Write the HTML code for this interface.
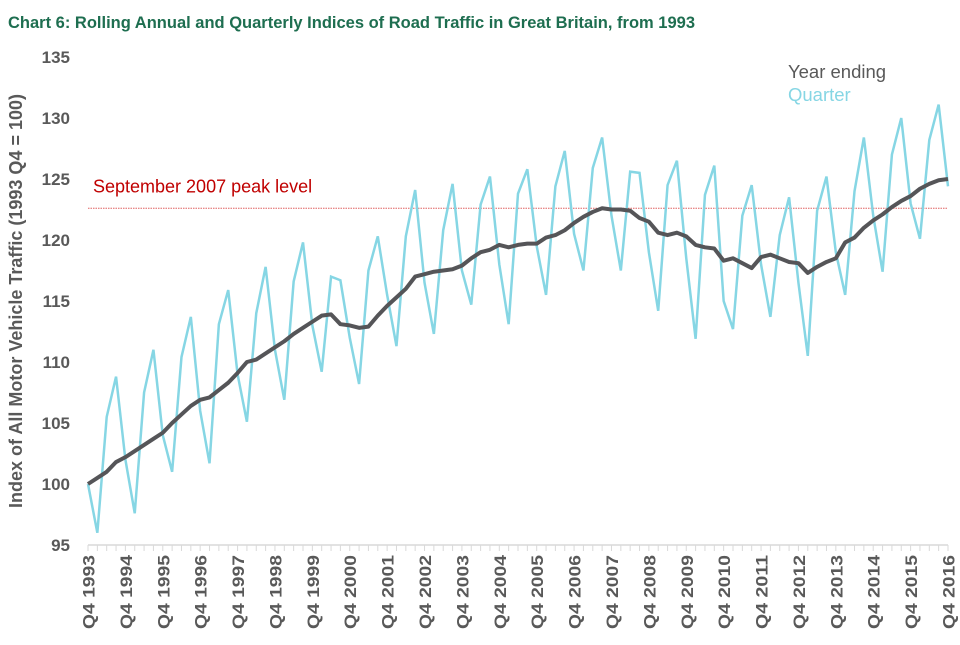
<!DOCTYPE html>
<html><head><meta charset="utf-8"><style>
body{margin:0;background:#fff;width:960px;height:640px;overflow:hidden;font-family:"Liberation Sans",sans-serif}
</style></head><body>
<svg width="960" height="640" xmlns="http://www.w3.org/2000/svg">
<text x="8" y="28" font-size="16.5" font-weight="bold" fill="#1e6e50">Chart 6: Rolling Annual and Quarterly Indices of Road Traffic in Great Britain, from 1993</text>
<text transform="translate(22,301) rotate(-90)" text-anchor="middle" font-size="18" font-weight="bold" fill="#595959">Index of All Motor Vehicle Traffic (1993 Q4 = 100)</text>
<g id="yticks"></g><g id="xticks"></g>
<line x1="88" y1="545" x2="948" y2="545" stroke="#d9d9d9" stroke-width="1.5"/>
<g id="peak"></g>
<polyline id="qline" fill="none" stroke="#86d6e4" stroke-width="2.5"/>
<polyline id="yline" fill="none" stroke="#555558" stroke-width="4" stroke-linejoin="round"/>
<text x="788" y="78" font-size="18.5" fill="#595959">Year ending</text>
<text x="788" y="101" font-size="18.5" fill="#86d6e4">Quarter</text>
</svg>
<script>
const yTicks=[95,100,105,110,115,120,125,130,135];
const xLabels=["Q4 1993","Q4 1994","Q4 1995","Q4 1996","Q4 1997","Q4 1998","Q4 1999","Q4 2000","Q4 2001","Q4 2002","Q4 2003","Q4 2004","Q4 2005","Q4 2006","Q4 2007","Q4 2008","Q4 2009","Q4 2010","Q4 2011","Q4 2012","Q4 2013","Q4 2014","Q4 2015","Q4 2016"];
const quarterly=[100,96,105.5,108.8,102,97.6,107.5,111,104,101,110.4,113.7,106,101.7,113.1,115.9,109,105.1,114,117.8,111,106.9,116.6,119.8,113,109.2,117,116.7,112,108.2,117.5,120.3,115.5,111.3,120.3,124.1,116.5,112.3,120.8,124.6,117.5,114.7,122.9,125.2,118,113.1,123.8,125.8,119.5,115.5,124.4,127.3,120.5,117.5,125.9,128.4,122,117.5,125.6,125.5,119,114.2,124.5,126.5,118.5,111.9,123.7,126.1,115,112.7,122,124.5,118,113.7,120.4,123.5,116.5,110.5,122.4,125.2,119,115.5,124,128.4,122,117.4,127,130,123,120.1,128.2,131.1,124.4];
const yearEnding=[100,100.5,101,101.8,102.2,102.7,103.2,103.7,104.2,105,105.7,106.4,106.9,107.1,107.7,108.3,109.1,110,110.2,110.7,111.2,111.7,112.3,112.8,113.3,113.8,113.9,113.1,113,112.8,112.9,113.8,114.6,115.3,116,117,117.2,117.4,117.5,117.6,117.9,118.5,119,119.2,119.6,119.4,119.6,119.7,119.7,120.2,120.4,120.8,121.4,121.9,122.3,122.6,122.5,122.5,122.4,121.8,121.5,120.6,120.4,120.6,120.3,119.6,119.4,119.3,118.3,118.5,118.1,117.7,118.6,118.8,118.5,118.2,118.1,117.3,117.8,118.2,118.5,119.8,120.2,121,121.6,122.1,122.7,123.2,123.6,124.2,124.6,124.9,125];
const peakLevel=[122.6];
const NS="http://www.w3.org/2000/svg";
const x0=88,x1=948,yTop=57,yBot=545,vMin=95,vMax=135;
const n=quarterly.length;
function xs(i){return x0+(x1-x0)*i/(n-1);}
function ys(v){return yBot-(v-vMin)/(vMax-vMin)*(yBot-yTop);}
function mk(t,a,p){const e=document.createElementNS(NS,t);for(const k in a)e.setAttribute(k,a[k]);p.appendChild(e);return e;}
const yg=document.getElementById('yticks');
yTicks.forEach(v=>{const t=mk('text',{x:70,y:ys(v)+6,'text-anchor':'end','font-size':17,'font-weight':'bold',fill:'#595959'},yg);t.textContent=v;

});
const xg=document.getElementById('xticks');
for(let i=0;i<n;i++){const l=mk('line',{x1:xs(i),x2:xs(i),y1:545,y2:551,stroke:'#d9d9d9','stroke-width':1},xg);

}
xLabels.forEach((s,j)=>{const x=xs(j*4);const t=mk('text',{transform:`translate(${x+6.5},555) rotate(-90)`,'text-anchor':'end','font-size':17,'font-weight':'bold',fill:'#595959',textLength:74,lengthAdjust:'spacingAndGlyphs'},xg);t.textContent=s;

});
const pg=document.getElementById('peak');
const pl=mk('line',{x1:x0,x2:x1,y1:ys(peakLevel[0]),y2:ys(peakLevel[0]),stroke:'#e06060','stroke-width':1,'stroke-dasharray':'1.5,1'},pg);


const pt=mk('text',{x:93,y:ys(peakLevel[0])-16,'font-size':18,fill:'#c00000'},pg);pt.textContent='September 2007 peak level';


document.getElementById('qline').setAttribute('points',quarterly.map((v,i)=>xs(i)+','+ys(v)).join(' '));
document.getElementById('yline').setAttribute('points',yearEnding.map((v,i)=>xs(i)+','+ys(v)).join(' '));
</script>
</body></html>
